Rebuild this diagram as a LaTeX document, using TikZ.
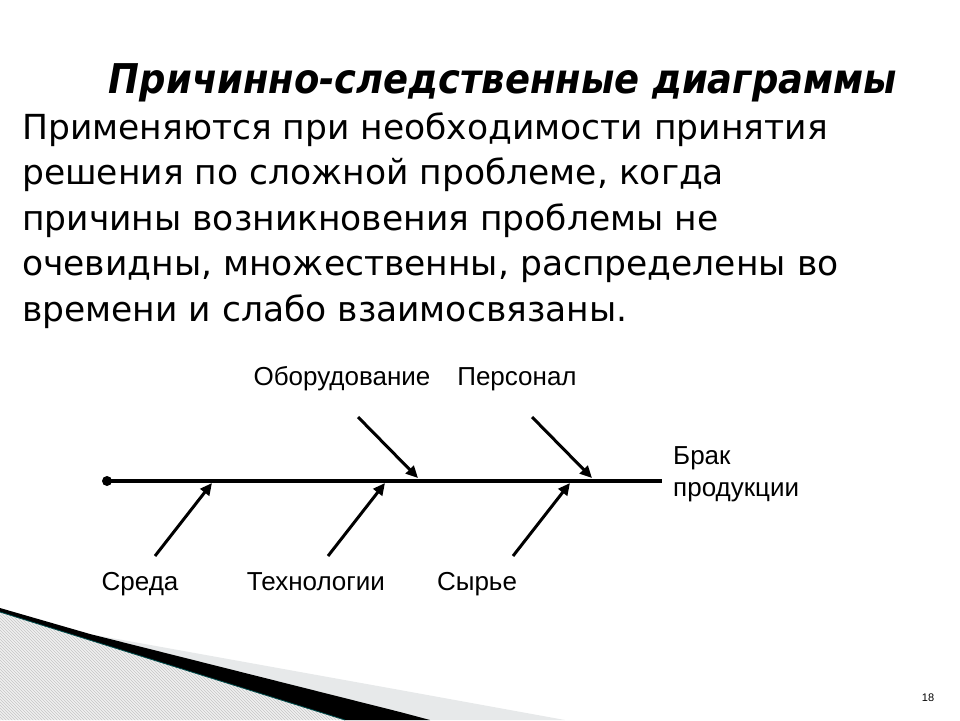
\documentclass[tikz,border=0pt]{standalone}
\usepackage{fontspec}
\setmainfont{DejaVu Sans}
\newfontfamily\lab{Liberation Sans}
\newfontfamily\ttl{DejaVu Sans Condensed}
\usetikzlibrary{arrows.meta,patterns}
\begin{document}
\begin{tikzpicture}[x=1pt,y=-1pt,
  bone/.style={line width=3pt,-{Triangle[length=12pt,width=11pt]}},
  lbl/.style={font=\lab\fontsize{26}{30}\selectfont,inner sep=0pt,anchor=base}]
\useasboundingbox (0,0) rectangle (960,720);
% decoration
\fill[gray!12] (0,610) -- (345,720) -- (0,720) -- cycle;
\fill[pattern=north west lines,pattern color=gray!45] (0,610) -- (345,720) -- (0,720) -- cycle;
\fill[cyan!8!gray!20] (95,635) -- (400,690) -- (565,720) -- (345,720) -- cycle;
\fill[black] (90,634) -- (400,712) -- (430,720) -- (345,720) -- (0,612) -- (0,608) -- cycle;
\draw[teal!60!black,line width=0.8pt] (0,612) -- (345,720);
% title
\node[inner sep=0pt,anchor=base] (title) at (503,93) {\ttl\bfseries\itshape\fontsize{41}{46}\selectfont Причинно-следственные диаграммы};
% body
\node[inner sep=0pt,anchor=north west,align=left,font=\fontsize{34.5}{45.5}\selectfont] (body) at (22,112)
{Применяются при необходимости принятия\\решения по сложной проблеме, когда\\причины возникновения проблемы не\\очевидны, множественны, распределены во\\времени и слабо взаимосвязаны.};
% diagram
\coordinate (s) at (107,481);
\coordinate (e) at (662,481);
\draw[line width=4pt] (s) -- (e);
\fill (s) circle (5);
\coordinate (a1) at (358,417); \coordinate (b1) at (418,478);
\coordinate (a2) at (532,417); \coordinate (b2) at (592,478);
\coordinate (c1) at (155,556); \coordinate (d1) at (212,483);
\coordinate (c2) at (328,556); \coordinate (d2) at (385,483);
\coordinate (c3) at (513,556); \coordinate (d3) at (570,483);
\draw[bone] (a1) -- (b1);
\draw[bone] (a2) -- (b2);
\draw[bone] (c1) -- (d1);
\draw[bone] (c2) -- (d2);
\draw[bone] (c3) -- (d3);
\node[lbl] (l1) at (342,385) {Оборудование};
\node[lbl] (l2) at (517,385) {Персонал};
\node[lbl,anchor=north west,align=left,font=\lab\fontsize{26}{32}\selectfont] (l3) at (673,446) {Брак\\продукции};
\node[lbl] (l4) at (140,590) {Среда};
\node[lbl] (l5) at (316,590) {Технологии};
\node[lbl] (l6) at (477,590) {Сырье};
\node[font=\lab\fontsize{11}{13}\selectfont] (pg) at (928,698) {18};
\end{tikzpicture}
\end{document}
